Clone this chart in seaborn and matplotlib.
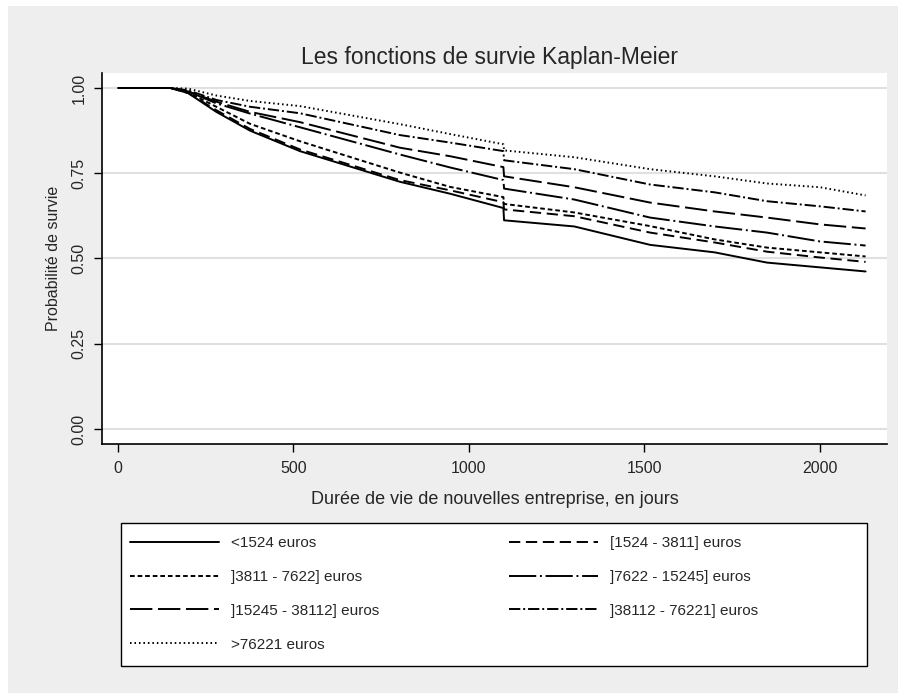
import pandas as pd
import seaborn as sns
import matplotlib.pyplot as plt
from matplotlib.patches import Rectangle

# durées (jours) où les courbes ont été lues
temps = [0, 150, 200, 280, 376, 518, 803, 946, 1098, 1100, 1300, 1516, 1700, 1849, 2000, 2130]

groupes = ["<1524 euros", "[1524 - 3811] euros", "]3811 - 7622] euros",
           "]7622 - 15245] euros", "]15245 - 38112] euros",
           "]38112 - 76221] euros", ">76221 euros"]

s_moins_1524 = [1, 1, 0.985, 0.93, 0.875, 0.815, 0.725, 0.69, 0.648, 0.612, 0.594, 0.54, 0.518, 0.488, 0.474, 0.462]
s_1524_3811 = [1, 1, 0.985, 0.935, 0.88, 0.82, 0.73, 0.70, 0.665, 0.644, 0.624, 0.576, 0.547, 0.52, 0.503, 0.49]
s_3811_7622 = [1, 1, 0.987, 0.945, 0.895, 0.844, 0.752, 0.71, 0.68, 0.66, 0.635, 0.595, 0.556, 0.532, 0.518, 0.506]
s_7622_15245 = [1, 1, 0.99, 0.955, 0.925, 0.885, 0.805, 0.767, 0.73, 0.705, 0.673, 0.62, 0.594, 0.576, 0.55, 0.538]
s_15245_38112 = [1, 1, 0.99, 0.96, 0.93, 0.90, 0.825, 0.80, 0.768, 0.741, 0.709, 0.664, 0.638, 0.62, 0.60, 0.588]
s_38112_76221 = [1, 1, 0.993, 0.965, 0.945, 0.926, 0.862, 0.84, 0.815, 0.788, 0.762, 0.717, 0.694, 0.668, 0.653, 0.638]
s_plus_76221 = [1, 1, 0.998, 0.978, 0.962, 0.947, 0.894, 0.865, 0.835, 0.817, 0.797, 0.762, 0.741, 0.72, 0.709, 0.685]

series = [s_moins_1524, s_1524_3811, s_3811_7622, s_7622_15245,
          s_15245_38112, s_38112_76221, s_plus_76221]

dashes = {
    groupes[0]: "",
    groupes[1]: (5.8, 2.9),
    groupes[2]: (2.4, 1.5),
    groupes[3]: (14, 1.9, 1.0, 1.9),
    groupes[4]: (11.5, 2.9),
    groupes[5]: (5.8, 1.5, 1.0, 1.5),
    groupes[6]: (0.8, 1.5),
}

if __name__ == "__main__":
    rows = []
    for g, s in zip(groupes, series):
        for t, v in zip(temps, s):
            rows.append({"temps": t, "survie": v, "groupe": g})
    data = pd.DataFrame(rows)

    sns.set_theme(style="white")
    plt.rcParams["font.family"] = ["Liberation Sans", "DejaVu Sans"]

    gris = "#eeeeee"
    fig = plt.figure(figsize=(8.98, 6.93), dpi=100, facecolor="white")
    fig.patches.append(Rectangle((8 / 898, 0), 1, 1 - 6 / 693, transform=fig.transFigure,
                                 facecolor=gris, edgecolor="none", zorder=-10))
    # cadre de la légende
    fig.patches.append(Rectangle((121 / 898, 1 - 666 / 693), 746 / 898, 143 / 693,
                                 transform=fig.transFigure, facecolor="white",
                                 edgecolor="black", linewidth=1.0, zorder=-5))
    ax = fig.add_axes([102 / 898, 1 - 444 / 693, 785 / 898, 371 / 693])
    ax.set_facecolor("white")

    palette = {g: "black" for g in groupes}
    sns.lineplot(data=data, x="temps", y="survie", hue="groupe", style="groupe",
                 palette=palette, dashes=dashes, estimator=None, linewidth=1.4, ax=ax)

    ax.set_xlim(-45.6, 2191)
    ax.set_ylim(-0.044, 1.044)
    ax.set_xticks([0, 500, 1000, 1500, 2000])
    ax.set_yticks([0, 0.25, 0.5, 0.75, 1.0])
    ax.set_yticklabels(["0.00", "0.25", "0.50", "0.75", "1.00"], rotation=90, va="center")
    ax.yaxis.grid(True, color="#e0e0e0", linewidth=1.5)
    ax.set_axisbelow(True)
    for side in ["top", "right"]:
        ax.spines[side].set_visible(False)
    for side in ["left", "bottom"]:
        ax.spines[side].set_color("black")
        ax.spines[side].set_linewidth(1.2)
    ax.tick_params(axis="both", direction="out", length=6, width=1, color="black",
                   labelsize=11.5, left=True, bottom=True)
    ax.tick_params(axis="x", pad=6)
    ax.tick_params(axis="y", pad=5)

    ax.set_xlabel("Durée de vie de nouvelles entreprise, en jours", fontsize=13, labelpad=11)
    ax.set_ylabel("Probabilité de survie", fontsize=11.5, labelpad=8)
    fig.text(490 / 898, 1 - 64 / 693, "Les fonctions de survie Kaplan-Meier",
             ha="center", va="baseline", fontsize=16.5)

    handles, labels = ax.get_legend_handles_labels()
    ax.get_legend().remove()
    ordre = [0, 2, 4, 6, 1, 3, 5]
    leg = fig.legend([handles[i] for i in ordre], [labels[i] for i in ordre],
                     ncol=2, loc="upper left",
                     bbox_to_anchor=(130 / 898, 1 - 536 / 693),
                     fontsize=11, handlelength=5.8, handletextpad=0.8,
                     labelspacing=1.3, columnspacing=8.5, borderpad=0.0,
                     borderaxespad=0.0, frameon=False)

    plt.savefig("out.png", dpi=100, facecolor=fig.get_facecolor())
